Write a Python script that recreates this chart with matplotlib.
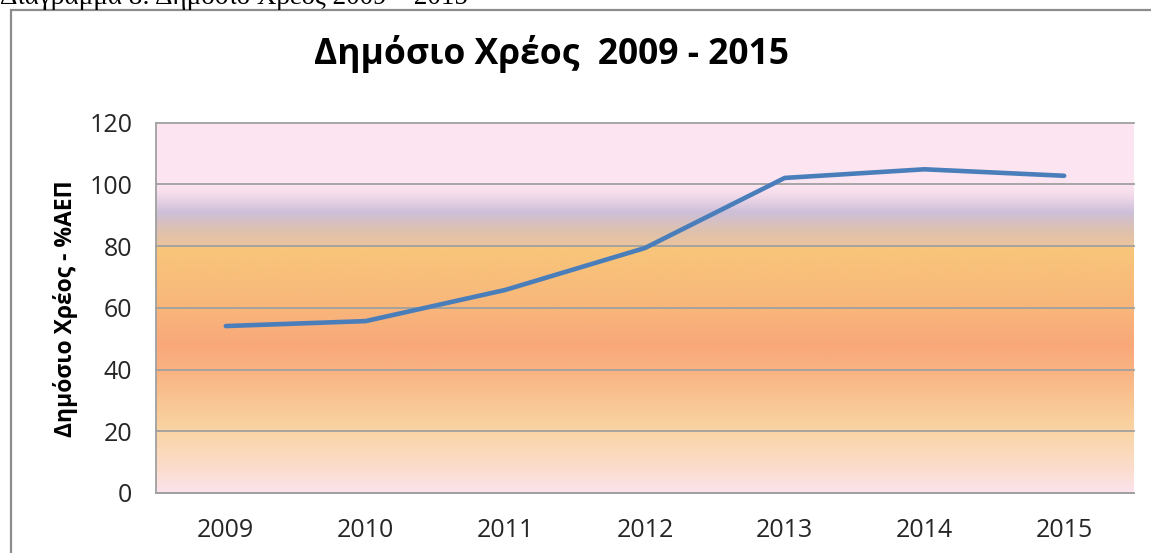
import numpy as np
import matplotlib
matplotlib.use("Agg")
import matplotlib.pyplot as plt
from matplotlib.colors import LinearSegmentedColormap
from matplotlib.patches import Rectangle

plt.rcParams['font.family'] = ['Open Sans', 'DejaVu Sans']

# data
years = ['2009', '2010', '2011', '2012', '2013', '2014', '2015']
debt = [54.1, 55.7, 65.8, 79.4, 102.1, 104.9, 102.8]
yticks = [0, 20, 40, 60, 80, 100, 120]

# background gradient stops (value on y axis, colour)
grad_vals = [0, 8, 18, 22, 40, 48, 60, 79.5, 80, 85, 91, 97, 100, 120]
grad_cols = ['#fce3ec', '#fbdccb', '#fad6ab', '#fad2a0', '#f9b282', '#f9a87a',
             '#f8b67a', '#f8c67a', '#ebc49c', '#dec1ae', '#cdbfd9', '#f5ddeb',
             '#fce4f1', '#fde5f2']

W, H = 1151, 553
fig = plt.figure(figsize=(W / 100, H / 100), dpi=100)

# outer chart frame (cut off on the right and bottom, like the screenshot)
fig.patches.append(Rectangle((11 / W, -0.2), 1.2, (H - 10) / H + 0.2,
                             transform=fig.transFigure, fill=False,
                             edgecolor='#8c8c8c', linewidth=1.6))

# caption of the document, mostly cut off at the top
fig.text(0 / W, 1 - 4 / H, 'Διάγραμμα 8: Δημόσιο Χρέος 2009 – 2015',
         family='Liberation Serif', fontsize=19.5, va='baseline', ha='left')

ax = fig.add_axes([156 / W, 1 - 493 / H, (1134 - 156) / W, (493 - 122.7) / H])

pos = np.arange(len(years))
cmap = LinearSegmentedColormap.from_list(
    'bg', list(zip(np.array(grad_vals) / 120.0, grad_cols)))
grad = np.linspace(0, 1, 600).reshape(-1, 1)
ax.imshow(grad, cmap=cmap, origin='lower', aspect='auto',
          extent=[-0.5, len(years) - 0.5, 0, 120], zorder=0)

ax.plot(pos, debt, color='#4a7ebb', linewidth=3.3, solid_capstyle='round',
        zorder=3)

ax.set_xlim(-0.5, len(years) - 0.5)
ax.set_ylim(0, 120)
ax.set_yticks(yticks)
ax.set_xticks(pos)
ax.set_xticklabels(years)
ax.grid(axis='y', color='#a0a0a0', linewidth=1.3, zorder=1)
ax.set_axisbelow(False)
for g in ax.get_ygridlines():
    g.set_zorder(1)
    g.set_clip_on(False)

for s in ['top', 'right']:
    ax.spines[s].set_visible(False)
for s in ['left', 'bottom']:
    ax.spines[s].set_color('#a0a0a0')
    ax.spines[s].set_linewidth(1.3)
ax.tick_params(length=0, labelsize=18, labelcolor='#262626')
ax.tick_params(axis='y', pad=17)
ax.tick_params(axis='x', pad=18)

fig.text(66 / W, 1 - 309 / H, 'Δημόσιο Χρέος - %ΑΕΠ', rotation=90,
         ha='center', va='center', fontsize=16.5, fontweight='bold')
fig.text(551 / W, 1 - 64 / H, 'Δημόσιο Χρέος  2009 - 2015', ha='center',
         va='baseline', fontsize=25.5, fontweight='bold')

fig.savefig('out.png', dpi=100)
